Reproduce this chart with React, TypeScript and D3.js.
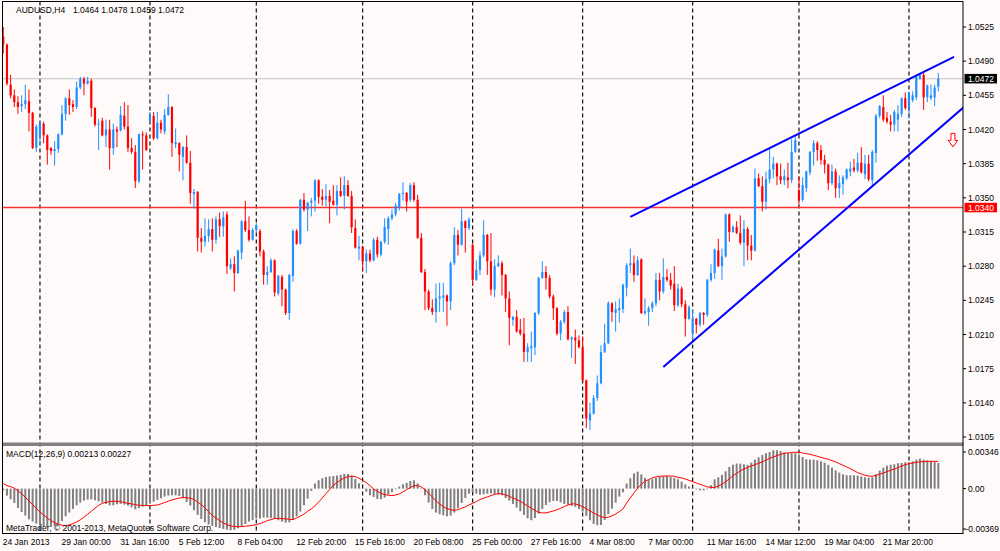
import React from "react";
import * as d3 from "d3";

// AUDUSD H4 bars, 24 Jan 2013 08:00 .. 26 Mar 2013 08:00
const opens = [
  1.0515, 1.0507, 1.0466, 1.0455, 1.0448, 1.0444, 1.0446, 1.0449, 1.0437, 1.0401,
  1.0414, 1.0426, 1.0414, 1.0401, 1.0398, 1.0400, 1.0415, 1.0436, 1.0452, 1.0446,
  1.0443, 1.0463, 1.0472, 1.0467, 1.0470, 1.0442, 1.0425, 1.0429, 1.0414, 1.0420,
  1.0401, 1.0420, 1.0419, 1.0434, 1.0423, 1.0401, 1.0397, 1.0367, 1.0415, 1.0414,
  1.0429, 1.0434, 1.0411, 1.0427, 1.0418, 1.0435, 1.0443, 1.0405, 1.0406, 1.0392,
  1.0402, 1.0386, 1.0354, 1.0356, 1.0309, 1.0305, 1.0311, 1.0318, 1.0307, 1.0328,
  1.0321, 1.0333, 1.0278, 1.0282, 1.0273, 1.0294, 1.0326, 1.0317, 1.0307, 1.0317,
  1.0316, 1.0295, 1.0271, 1.0274, 1.0286, 1.0252, 1.0269, 1.0256, 1.0232, 1.0270,
  1.0316, 1.0303, 1.0348, 1.0338, 1.0345, 1.0347, 1.0368, 1.0351, 1.0348, 1.0352,
  1.0347, 1.0343, 1.0357, 1.0352, 1.0363, 1.0352, 1.0319, 1.0298, 1.0300, 1.0285,
  1.0293, 1.0286, 1.0307, 1.0292, 1.0305, 1.0318, 1.0329, 1.0333, 1.0340, 1.0354,
  1.0355, 1.0348, 1.0363, 1.0348, 1.0309, 1.0274, 1.0254, 1.0237, 1.0233, 1.0247,
  1.0248, 1.0250, 1.0244, 1.0283, 1.0312, 1.0302, 1.0326, 1.0319, 1.0302, 1.0266,
  1.0276, 1.0291, 1.0312, 1.0285, 1.0256, 1.0280, 1.0283, 1.0271, 1.0247, 1.0225,
  1.0228, 1.0215, 1.0211, 1.0192, 1.0196, 1.0197, 1.0232, 1.0268, 1.0274, 1.0268,
  1.0249, 1.0237, 1.0211, 1.0223, 1.0233, 1.0205, 1.0207, 1.0204, 1.0197, 1.0163,
  1.0122, 1.0129, 1.0145, 1.0160, 1.0192, 1.0201, 1.0242, 1.0232, 1.0235, 1.0236,
  1.0258, 1.0281, 1.0283, 1.0271, 1.0287, 1.0232, 1.0233, 1.0237, 1.0242, 1.0266,
  1.0254, 1.0269, 1.0266, 1.0262, 1.0240, 1.0257, 1.0241, 1.0226, 1.0211, 1.0226,
  1.0220, 1.0232, 1.0230, 1.0266, 1.0273, 1.0296, 1.0280, 1.0290, 1.0333, 1.0315,
  1.0320, 1.0314, 1.0304, 1.0318, 1.0301, 1.0296, 1.0370, 1.0362, 1.0346, 1.0369,
  1.0379, 1.0385, 1.0372, 1.0368, 1.0371, 1.0368, 1.0397, 1.0358, 1.0348, 1.0360,
  1.0376, 1.0397, 1.0406, 1.0399, 1.0389, 1.0384, 1.0365, 1.0377, 1.0360, 1.0364,
  1.0370, 1.0377, 1.0381, 1.0378, 1.0386, 1.0374, 1.0385, 1.0368, 1.0396, 1.0434,
  1.0443, 1.0432, 1.0428, 1.0425, 1.0430, 1.0436, 1.0452, 1.0442, 1.0450, 1.0453,
  1.0472, 1.0476, 1.0453, 1.0452, 1.0453, 1.0464,
];

const highs = [
  1.0525, 1.0508, 1.0476, 1.0461, 1.0454, 1.0455, 1.0466, 1.0461, 1.0438, 1.0425,
  1.0428, 1.0428, 1.0415, 1.0402, 1.0408, 1.0416, 1.0445, 1.0453, 1.0461, 1.0450,
  1.0469, 1.0474, 1.0474, 1.0474, 1.0472, 1.0443, 1.0431, 1.0432, 1.0430, 1.0430,
  1.0426, 1.0423, 1.0444, 1.0448, 1.0445, 1.0411, 1.0404, 1.0416, 1.0418, 1.0417,
  1.0438, 1.0438, 1.0438, 1.0430, 1.0441, 1.0456, 1.0444, 1.0421, 1.0407, 1.0403,
  1.0414, 1.0398, 1.0359, 1.0357, 1.0319, 1.0329, 1.0328, 1.0329, 1.0331, 1.0335,
  1.0336, 1.0336, 1.0288, 1.0290, 1.0297, 1.0327, 1.0347, 1.0331, 1.0319, 1.0324,
  1.0318, 1.0297, 1.0280, 1.0288, 1.0287, 1.0271, 1.0271, 1.0257, 1.0272, 1.0318,
  1.0318, 1.0349, 1.0355, 1.0346, 1.0350, 1.0369, 1.0369, 1.0359, 1.0364, 1.0358,
  1.0363, 1.0363, 1.0371, 1.0372, 1.0368, 1.0357, 1.0328, 1.0311, 1.0301, 1.0297,
  1.0297, 1.0309, 1.0310, 1.0306, 1.0329, 1.0331, 1.0338, 1.0345, 1.0355, 1.0366,
  1.0356, 1.0365, 1.0366, 1.0353, 1.0314, 1.0277, 1.0256, 1.0246, 1.0262, 1.0263,
  1.0263, 1.0251, 1.0285, 1.0320, 1.0317, 1.0339, 1.0327, 1.0330, 1.0303, 1.0286,
  1.0295, 1.0327, 1.0313, 1.0314, 1.0287, 1.0291, 1.0285, 1.0272, 1.0254, 1.0229,
  1.0235, 1.0226, 1.0227, 1.0201, 1.0213, 1.0233, 1.0269, 1.0285, 1.0280, 1.0271,
  1.0251, 1.0238, 1.0225, 1.0235, 1.0239, 1.0208, 1.0215, 1.0209, 1.0208, 1.0164,
  1.0140, 1.0148, 1.0168, 1.0199, 1.0221, 1.0244, 1.0243, 1.0244, 1.0247, 1.0262,
  1.0283, 1.0298, 1.0291, 1.0290, 1.0288, 1.0247, 1.0239, 1.0244, 1.0273, 1.0273,
  1.0288, 1.0277, 1.0273, 1.0280, 1.0262, 1.0259, 1.0245, 1.0240, 1.0235, 1.0227,
  1.0233, 1.0233, 1.0267, 1.0282, 1.0298, 1.0308, 1.0298, 1.0334, 1.0334, 1.0322,
  1.0326, 1.0332, 1.0327, 1.0320, 1.0312, 1.0380, 1.0375, 1.0372, 1.0377, 1.0400,
  1.0392, 1.0386, 1.0385, 1.0379, 1.0386, 1.0410, 1.0413, 1.0372, 1.0371, 1.0378,
  1.0398, 1.0409, 1.0408, 1.0404, 1.0394, 1.0385, 1.0384, 1.0380, 1.0373, 1.0373,
  1.0380, 1.0387, 1.0390, 1.0396, 1.0402, 1.0394, 1.0394, 1.0399, 1.0436, 1.0445,
  1.0455, 1.0438, 1.0435, 1.0440, 1.0445, 1.0453, 1.0458, 1.0459, 1.0459, 1.0476,
  1.0478, 1.0478, 1.0466, 1.0466, 1.0466, 1.0478,
];

const lows = [
  1.0498, 1.0465, 1.0452, 1.0443, 1.0436, 1.0438, 1.0441, 1.0418, 1.0400, 1.0397,
  1.0404, 1.0406, 1.0384, 1.0394, 1.0383, 1.0396, 1.0414, 1.0429, 1.0435, 1.0438,
  1.0441, 1.0461, 1.0455, 1.0466, 1.0433, 1.0423, 1.0399, 1.0413, 1.0402, 1.0379,
  1.0394, 1.0402, 1.0418, 1.0420, 1.0397, 1.0395, 1.0360, 1.0365, 1.0379, 1.0398,
  1.0427, 1.0409, 1.0410, 1.0416, 1.0415, 1.0434, 1.0392, 1.0401, 1.0377, 1.0368,
  1.0385, 1.0344, 1.0339, 1.0295, 1.0294, 1.0300, 1.0305, 1.0295, 1.0303, 1.0310,
  1.0310, 1.0272, 1.0276, 1.0254, 1.0272, 1.0287, 1.0315, 1.0305, 1.0306, 1.0314,
  1.0290, 1.0261, 1.0261, 1.0273, 1.0249, 1.0250, 1.0239, 1.0230, 1.0225, 1.0264,
  1.0302, 1.0302, 1.0336, 1.0316, 1.0331, 1.0336, 1.0344, 1.0342, 1.0341, 1.0324,
  1.0342, 1.0332, 1.0351, 1.0338, 1.0351, 1.0314, 1.0298, 1.0286, 1.0276, 1.0273,
  1.0284, 1.0285, 1.0289, 1.0290, 1.0303, 1.0302, 1.0327, 1.0331, 1.0337, 1.0347,
  1.0336, 1.0346, 1.0346, 1.0308, 1.0273, 1.0235, 1.0235, 1.0230, 1.0222, 1.0233,
  1.0233, 1.0219, 1.0235, 1.0281, 1.0291, 1.0301, 1.0294, 1.0317, 1.0260, 1.0265,
  1.0271, 1.0289, 1.0271, 1.0250, 1.0248, 1.0279, 1.0250, 1.0233, 1.0199, 1.0219,
  1.0212, 1.0209, 1.0182, 1.0182, 1.0182, 1.0189, 1.0230, 1.0267, 1.0256, 1.0247,
  1.0225, 1.0209, 1.0204, 1.0221, 1.0204, 1.0186, 1.0180, 1.0196, 1.0162, 1.0114,
  1.0112, 1.0128, 1.0142, 1.0159, 1.0191, 1.0200, 1.0223, 1.0213, 1.0222, 1.0232,
  1.0249, 1.0273, 1.0264, 1.0270, 1.0231, 1.0230, 1.0219, 1.0233, 1.0239, 1.0245,
  1.0252, 1.0264, 1.0256, 1.0234, 1.0238, 1.0238, 1.0208, 1.0225, 1.0203, 1.0211,
  1.0218, 1.0220, 1.0228, 1.0264, 1.0267, 1.0279, 1.0266, 1.0289, 1.0305, 1.0314,
  1.0313, 1.0302, 1.0280, 1.0286, 1.0286, 1.0295, 1.0361, 1.0336, 1.0338, 1.0365,
  1.0370, 1.0363, 1.0364, 1.0363, 1.0360, 1.0365, 1.0396, 1.0343, 1.0346, 1.0356,
  1.0373, 1.0383, 1.0388, 1.0384, 1.0375, 1.0358, 1.0363, 1.0350, 1.0350, 1.0353,
  1.0368, 1.0372, 1.0376, 1.0376, 1.0375, 1.0369, 1.0367, 1.0362, 1.0386, 1.0432,
  1.0428, 1.0426, 1.0418, 1.0418, 1.0418, 1.0433, 1.0440, 1.0431, 1.0448, 1.0450,
  1.0471, 1.0440, 1.0448, 1.0450, 1.0444, 1.0459,
];

const closes = [
  1.0507, 1.0467, 1.0455, 1.0448, 1.0443, 1.0446, 1.0450, 1.0437, 1.0401, 1.0423,
  1.0427, 1.0414, 1.0399, 1.0398, 1.0400, 1.0415, 1.0436, 1.0452, 1.0445, 1.0443,
  1.0463, 1.0472, 1.0467, 1.0470, 1.0442, 1.0425, 1.0426, 1.0414, 1.0420, 1.0401,
  1.0420, 1.0418, 1.0435, 1.0423, 1.0401, 1.0397, 1.0367, 1.0415, 1.0414, 1.0399,
  1.0434, 1.0411, 1.0427, 1.0420, 1.0435, 1.0443, 1.0406, 1.0407, 1.0394, 1.0402,
  1.0386, 1.0355, 1.0356, 1.0309, 1.0305, 1.0311, 1.0318, 1.0307, 1.0328, 1.0321,
  1.0330, 1.0280, 1.0282, 1.0273, 1.0296, 1.0326, 1.0317, 1.0307, 1.0317, 1.0322,
  1.0295, 1.0271, 1.0274, 1.0286, 1.0253, 1.0270, 1.0256, 1.0232, 1.0271, 1.0316,
  1.0303, 1.0348, 1.0338, 1.0345, 1.0347, 1.0368, 1.0351, 1.0348, 1.0352, 1.0346,
  1.0343, 1.0357, 1.0352, 1.0363, 1.0352, 1.0320, 1.0299, 1.0300, 1.0285, 1.0293,
  1.0286, 1.0307, 1.0292, 1.0305, 1.0320, 1.0329, 1.0333, 1.0342, 1.0354, 1.0355,
  1.0346, 1.0363, 1.0348, 1.0309, 1.0274, 1.0254, 1.0237, 1.0233, 1.0247, 1.0249,
  1.0250, 1.0244, 1.0283, 1.0312, 1.0302, 1.0326, 1.0319, 1.0328, 1.0266, 1.0276,
  1.0291, 1.0312, 1.0285, 1.0256, 1.0280, 1.0283, 1.0271, 1.0247, 1.0227, 1.0228,
  1.0213, 1.0211, 1.0192, 1.0197, 1.0198, 1.0232, 1.0268, 1.0274, 1.0268, 1.0249,
  1.0237, 1.0211, 1.0223, 1.0233, 1.0205, 1.0207, 1.0204, 1.0197, 1.0163, 1.0124,
  1.0129, 1.0145, 1.0160, 1.0192, 1.0201, 1.0242, 1.0233, 1.0236, 1.0237, 1.0261,
  1.0281, 1.0283, 1.0271, 1.0286, 1.0232, 1.0234, 1.0237, 1.0242, 1.0266, 1.0254,
  1.0269, 1.0266, 1.0260, 1.0240, 1.0257, 1.0241, 1.0226, 1.0238, 1.0226, 1.0220,
  1.0232, 1.0230, 1.0266, 1.0273, 1.0297, 1.0280, 1.0290, 1.0333, 1.0315, 1.0320,
  1.0314, 1.0304, 1.0318, 1.0301, 1.0296, 1.0370, 1.0362, 1.0346, 1.0369, 1.0379,
  1.0385, 1.0372, 1.0368, 1.0372, 1.0368, 1.0397, 1.0409, 1.0348, 1.0363, 1.0377,
  1.0397, 1.0406, 1.0399, 1.0389, 1.0384, 1.0365, 1.0377, 1.0360, 1.0365, 1.0371,
  1.0379, 1.0380, 1.0378, 1.0386, 1.0376, 1.0385, 1.0369, 1.0397, 1.0434, 1.0444,
  1.0430, 1.0428, 1.0425, 1.0438, 1.0436, 1.0452, 1.0442, 1.0458, 1.0455, 1.0474,
  1.0476, 1.0453, 1.0465, 1.0455, 1.0463, 1.0472,
];

// MACD(12,26,9) in points (0.00001)
const macdMain = [
  -14, -58, -89, -119, -161, -194, -224, -255, -274, -291,
  -305, -313, -319, -319, -310, -299, -269, -230, -199, -169,
  -139, -116, -100, -91, -89, -97, -105, -116, -127, -139,
  -139, -130, -127, -133, -141, -155, -172, -163, -150, -139,
  -125, -108, -94, -80, -66, -58, -55, -55, -61, -80,
  -111, -141, -180, -219, -252, -280, -299, -310, -319, -327,
  -335, -341, -346, -343, -330, -313, -294, -274, -260, -249,
  -249, -241, -241, -244, -252, -263, -274, -283, -280, -260,
  -230, -191, -139, -83, -19, 42, 69, 86, 97, 102,
  105, 108, 114, 122, 122, 105, 80, 44, 6, -25,
  -55, -69, -86, -89, -75, -50, -28, -6, 17, 36,
  47, 64, 69, 44, -3, -55, -116, -169, -199, -213,
  -222, -230, -224, -199, -163, -119, -78, -42, -28, -42,
  -50, -47, -42, -39, -44, -50, -55, -78, -100, -127,
  -158, -188, -219, -247, -263, -244, -208, -169, -136, -114,
  -102, -102, -114, -127, -133, -144, -152, -169, -191, -227,
  -263, -294, -305, -302, -260, -213, -166, -116, -66, -30,
  42, 86, 127, 141, 119, 89, 72, 78, 89, 97,
  102, 105, 97, 89, 78, 58, 36, 17, 8, -6,
  -14, -14, -6, 28, 78, 94, 114, 144, 180, 199,
  208, 208, 202, 197, 216, 241, 260, 280, 294, 305,
  319, 319, 313, 302, 296, 296, 294, 283, 263, 244,
  241, 241, 235, 227, 216, 197, 175, 152, 133, 119,
  111, 111, 111, 108, 102, 94, 91, 94, 119, 150,
  175, 191, 199, 202, 211, 213, 219, 219, 227, 241,
  249, 241, 235, 230, 224, 213,
];

const macdSignal = [
  42, 25, 17, 3, -17, -42, -72, -102, -133, -163,
  -194, -219, -244, -266, -283, -296, -305, -307, -302, -291,
  -277, -260, -238, -213, -188, -163, -139, -122, -114, -108,
  -105, -105, -108, -116, -122, -127, -133, -139, -139, -141,
  -141, -139, -136, -127, -116, -105, -94, -86, -78, -75,
  -75, -80, -89, -111, -133, -161, -191, -222, -244, -266,
  -285, -299, -310, -316, -316, -316, -313, -310, -305, -299,
  -291, -280, -266, -258, -249, -247, -249, -252, -255, -258,
  -244, -230, -211, -188, -169, -144, -111, -78, -42, -8,
  28, 50, 72, 89, 100, 105, 100, 86, 69, 50,
  25, -3, -22, -39, -50, -55, -58, -53, -44, -28,
  -8, 8, 25, 25, 14, -6, -39, -69, -102, -127,
  -150, -166, -175, -180, -175, -163, -152, -136, -122, -108,
  -91, -80, -69, -58, -47, -42, -44, -53, -64, -78,
  -91, -105, -125, -144, -163, -180, -197, -202, -202, -194,
  -186, -175, -163, -150, -136, -127, -127, -136, -150, -166,
  -186, -202, -219, -233, -241, -238, -227, -211, -191, -169,
  -119, -78, -36, 3, 36, 61, 75, 89, 97, 102,
  105, 105, 105, 102, 94, 89, 80, 69, 58, 47,
  36, 25, 14, 11, 8, 22, 36, 58, 80, 108,
  127, 147, 163, 177, 188, 199, 211, 222, 238, 252,
  263, 274, 285, 294, 296, 302, 302, 302, 296, 291,
  285, 277, 269, 260, 252, 244, 233, 222, 208, 194,
  180, 166, 150, 133, 122, 111, 105, 102, 111, 119,
  130, 141, 152, 163, 175, 188, 199, 208, 213, 219,
  222, 224, 227, 227, 227, 227,
];

const priceTicks = [1.0105, 1.014, 1.0175, 1.021, 1.0245, 1.028, 1.0315, 1.035, 1.0385, 1.042, 1.0455, 1.049, 1.0525];
const macdTicks = [0.00346, 0, -0.00369];
const macdTickText = ["0.00346", "0.00", "-0.00369"];

// bar index of each label
const timeLabelBars = [0, 16, 32, 48, 64, 80, 96, 112, 128, 144, 160, 176, 192, 208, 224, 240];
const timeLabelText = [
  "24 Jan 2013", "29 Jan 00:00", "31 Jan 16:00", "5 Feb 12:00", "8 Feb 04:00", "12 Feb 20:00",
  "15 Feb 16:00", "20 Feb 08:00", "25 Feb 00:00", "27 Feb 16:00", "4 Mar 08:00", "7 Mar 00:00",
  "11 Mar 16:00", "14 Mar 12:00", "19 Mar 04:00", "21 Mar 20:00",
];

// period separators (Monday 00:00 bars)
const weekStarts = [10, 40, 69, 98, 128, 158, 188, 217, 247];

// trend lines: [bar, price] pairs
const trendUpper = [[171, 1.03304], [259.3, 1.04943]];
const trendLower = [[180, 1.01768], [261.7, 1.04421]];
const levelPrice = 1.034;
const bidPrice = 1.0472;
const sellArrow = { bar: 259, price: 1.0416 };

const W = 1000;
const H = 551;
const L = 2;
const R = 963;
const TOP = 1.5;
const MAIN_BOTTOM = 442.5;
const MACD_TOP = 446;
const BOTTOM = 533.5;
const FONT = "'Liberation Sans', Arial, sans-serif";

export default function App() {
  const x = d3.scaleLinear().domain([0, 255]).range([3.3, 938.3]);
  const y = d3.scaleLinear().domain([1.0105, 1.0525]).range([437, 27]);
  const my = d3.scaleLinear().domain([-0.00369, 0.00346]).range([533, 447]);
  const pt = (v: number) => v * 0.00001;

  const signalPath = d3
    .line<number>()
    .x((_, i) => x(i))
    .y((d) => my(pt(d)))(macdSignal) as string;

  const lineEnds = (seg: number[][], ray: boolean) => {
    const [[b1, p1], [b2, p2]] = seg;
    if (!ray) return [x(b1), y(p1), x(b2), y(p2)];
    const bEnd = 290;
    const pEnd = p1 + ((p2 - p1) * (bEnd - b1)) / (b2 - b1);
    return [x(b1), y(p1), x(bEnd), y(pEnd)];
  };
  const up = lineEnds(trendUpper, false);
  const lo = lineEnds(trendLower, true);

  const ax = x(sellArrow.bar);
  const ay = y(sellArrow.price);
  const arrowPath = `M${ax - 2},${ay} L${ax + 2},${ay} L${ax + 2},${ay + 7} L${ax + 4.8},${ay + 7} L${ax},${ay + 13.5} L${ax - 4.8},${ay + 7} L${ax - 2},${ay + 7} Z`;

  return (
    <svg width={W} height={H} style={{ position: "fixed", left: 0, top: 0 }} fontFamily={FONT}>
      <defs>
        <clipPath id="mainClip">
          <rect x={L} y={TOP} width={R - L} height={MAIN_BOTTOM - TOP} />
        </clipPath>
        <clipPath id="macdClip">
          <rect x={L} y={MACD_TOP} width={R - L} height={BOTTOM - MACD_TOP} />
        </clipPath>
      </defs>
      <rect x={0} y={0} width={W} height={H} fill="#FFFAFA" />

      {/* period separators */}
      {weekStarts.map((b) => (
        <line key={b} x1={x(b)} x2={x(b)} y1={TOP} y2={BOTTOM} stroke="#111" strokeWidth={1.2} strokeDasharray="4,3" />
      ))}

      {/* main window */}
      <g clipPath="url(#mainClip)">
        <line x1={L} x2={R} y1={y(bidPrice)} y2={y(bidPrice)} stroke="#C0C0C0" strokeWidth={1} />
        <line x1={L} x2={R} y1={y(levelPrice)} y2={y(levelPrice)} stroke="#FF3030" strokeWidth={1.5} />
        {closes.map((c, i) => {
          const o = opens[i];
          const bull = c >= o;
          const col = bull ? "#1E90FF" : "#FF0000";
          const cx = x(i);
          const top = y(Math.max(o, c));
          const h = Math.max(1, Math.abs(y(o) - y(c)));
          return (
            <g key={i}>
              <line x1={cx} x2={cx} y1={y(highs[i])} y2={y(lows[i])} stroke={col} strokeWidth={1} />
              <rect x={cx - 1.1} y={top} width={2.2} height={h} fill={col} />
            </g>
          );
        })}
        <line x1={up[0]} y1={up[1]} x2={up[2]} y2={up[3]} stroke="#0000FF" strokeWidth={2} />
        <line x1={lo[0]} y1={lo[1]} x2={lo[2]} y2={lo[3]} stroke="#0000FF" strokeWidth={2} />
        <path d={arrowPath} fill="#FFFFFF" stroke="#FF0000" strokeWidth={1} />
      </g>
      <text x={16} y={13} fontSize={8.5} fill="#000">AUDUSD,H4</text>
      <text x={73} y={13} fontSize={8.5} fill="#000">
        {[opens[255], highs[255], lows[255], closes[255]].map((v) => v.toFixed(4)).join(" ")}
      </text>

      {/* MACD window */}
      <g clipPath="url(#macdClip)">
        {macdMain.map((v, i) => {
          const y0 = my(0);
          const y1 = my(pt(v));
          return <rect key={i} x={x(i) - 1} y={Math.min(y0, y1)} width={2} height={Math.max(0.5, Math.abs(y1 - y0))} fill="#808080" />;
        })}
        <path d={signalPath} fill="none" stroke="#FF0000" strokeWidth={1} />
      </g>
      <text x={6} y={457} fontSize={8.5} fill="#000">
        {`MACD(12,26,9) ${pt(macdMain[255]).toFixed(5)} ${pt(macdSignal[255]).toFixed(5)}`}
      </text>
      <text x={6} y={531} fontSize={8.5} fill="#000">MetaTrader, © 2001-2013, MetaQuotes Software Corp.</text>

      {/* separator bar and frame */}
      <rect x={L} y={MAIN_BOTTOM} width={R - L + 0.5} height={3.5} fill="#808080" />
      <rect x={L + 0.5} y={TOP} width={R - L - 0.5} height={BOTTOM - TOP} fill="none" stroke="#000" strokeWidth={1} />

      {/* price axis */}
      {priceTicks.map((p) => (
        <g key={p}>
          <line x1={R} x2={R + 3} y1={y(p)} y2={y(p)} stroke="#000" />
          <text x={968} y={y(p) + 3} fontSize={8.5} fill="#000">{p.toFixed(4)}</text>
        </g>
      ))}
      <rect x={964.5} y={y(levelPrice) - 4.8} width={32.5} height={9.5} fill="#FF0000" />
      <text x={968} y={y(levelPrice) + 3} fontSize={8.5} fill="#FFFFFF">{levelPrice.toFixed(4)}</text>
      <rect x={964.5} y={y(bidPrice) - 4.8} width={32.5} height={9.5} fill="#000000" />
      <text x={968} y={y(bidPrice) + 3} fontSize={8.5} fill="#FFFFFF">{bidPrice.toFixed(4)}</text>

      {/* MACD axis */}
      {macdTicks.map((v, i) => {
        const ty = Math.min(Math.max(my(v), 452), 529);
        return (
          <g key={i}>
            <line x1={R} x2={R + 3} y1={ty} y2={ty} stroke="#000" />
            <text x={v < 0 ? 965.5 : 968} y={ty + 3} fontSize={8.5} fill="#000">{macdTickText[i]}</text>
          </g>
        );
      })}

      {/* time axis */}
      {timeLabelBars.map((b, i) => (
        <text key={b} x={x(b) - 0.5} y={545} fontSize={8.5} fill="#000">{timeLabelText[i]}</text>
      ))}
    </svg>
  );
}
